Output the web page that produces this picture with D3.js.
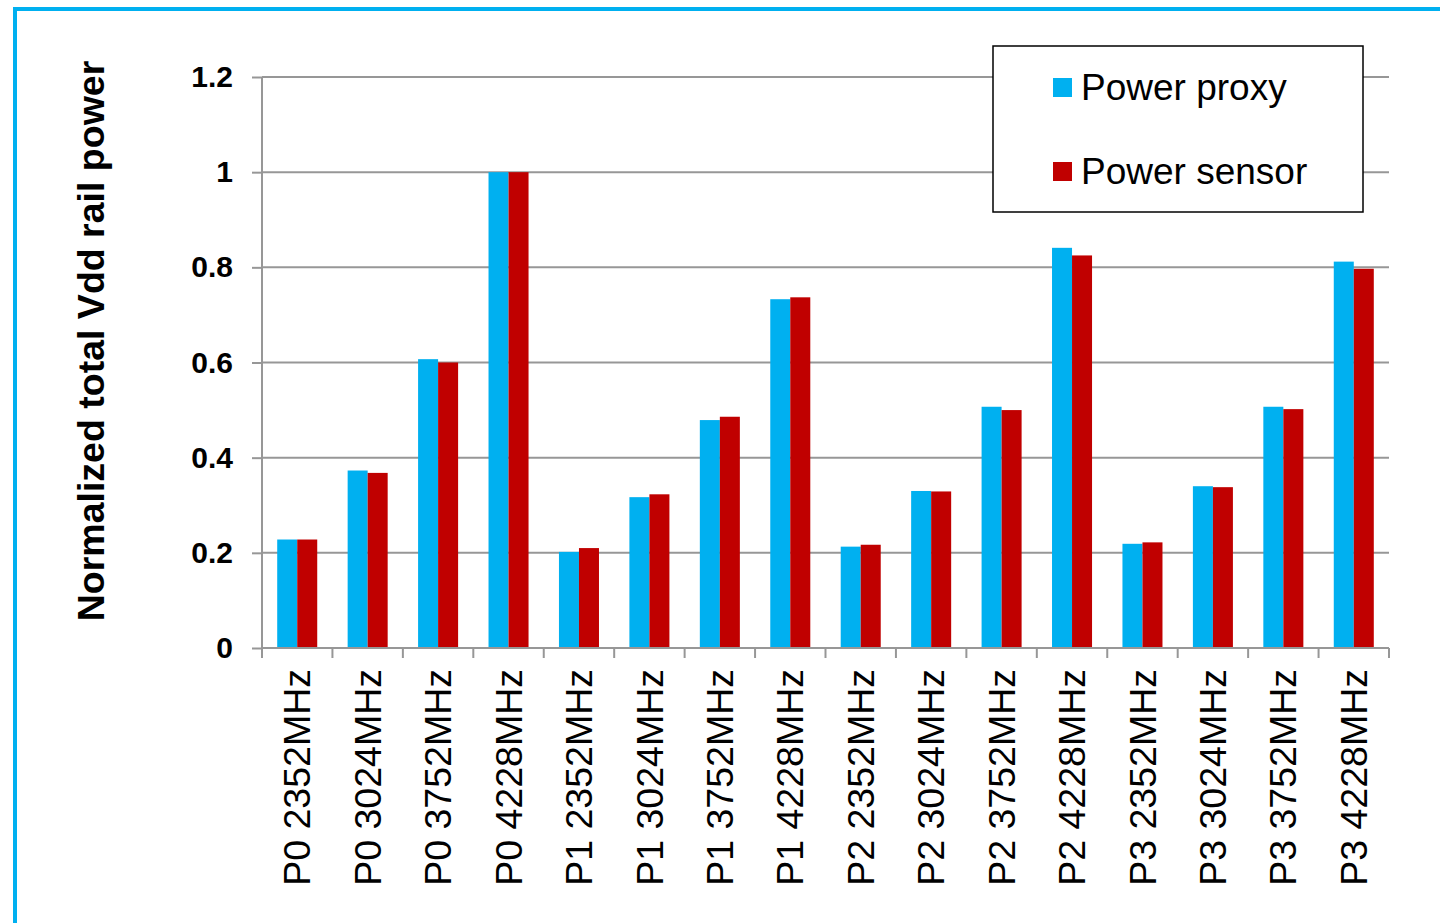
<!DOCTYPE html>
<html>
<head>
<meta charset="utf-8">
<script src="https://cdn.jsdelivr.net/npm/d3@7"></script>
<style>
  html, body { margin: 0; padding: 0; background: #fff; }
  svg { display: block; font-family: "Liberation Sans", Arial, sans-serif; }
</style>
</head>
<body>
<svg id="chart" width="1440" height="923"></svg>
<script>
// Operating points (P-state and core frequency)
const categories = [
  "P0 2352MHz", "P0 3024MHz", "P0 3752MHz", "P0 4228MHz",
  "P1 2352MHz", "P1 3024MHz", "P1 3752MHz", "P1 4228MHz",
  "P2 2352MHz", "P2 3024MHz", "P2 3752MHz", "P2 4228MHz",
  "P3 2352MHz", "P3 3024MHz", "P3 3752MHz", "P3 4228MHz"
];
const seriesNames = ["Power proxy", "Power sensor"];
const powerProxy = [0.228, 0.373, 0.607, 1.000, 0.202, 0.317, 0.479, 0.733,
                    0.213, 0.330, 0.507, 0.841, 0.219, 0.340, 0.507, 0.812];
const powerSensor = [0.228, 0.368, 0.600, 1.000, 0.210, 0.323, 0.486, 0.737,
                     0.217, 0.329, 0.500, 0.825, 0.222, 0.338, 0.502, 0.797];
const yTicks = [0, 0.2, 0.4, 0.6, 0.8, 1, 1.2];
const yTickLabels = ["0", "0.2", "0.4", "0.6", "0.8", "1", "1.2"];
const colors = ["#00b0f0", "#c00000"];

const svg = d3.select("#chart");

// outer frame
svg.append("rect")
  .attr("x", 15).attr("y", 9)
  .attr("width", 1440).attr("height", 930)
  .attr("fill", "none")
  .attr("stroke", "#00b0f0")
  .attr("stroke-width", 4);

const plot = { left: 262, right: 1389, top: 77, bottom: 648 };
const gridColor = "#979797";

const x = d3.scaleBand().domain(categories).range([plot.left, plot.right]).padding(0);
const x1 = d3.scaleBand().domain(seriesNames).range([0, x.bandwidth()])
  .paddingInner(0).paddingOuter(0.76);
const y = d3.scaleLinear().domain([0, 1.2]).range([plot.bottom, plot.top]);

// horizontal gridlines
svg.append("g").selectAll("line")
  .data(yTicks.filter(d => d > 0))
  .join("line")
  .attr("x1", plot.left).attr("x2", plot.right)
  .attr("y1", d => y(d)).attr("y2", d => y(d))
  .attr("stroke", gridColor).attr("stroke-width", 2);

// bars
const rows = categories.map((c, i) => ({ cat: c, vals: [powerProxy[i], powerSensor[i]] }));
const groups = svg.append("g").selectAll("g")
  .data(rows)
  .join("g")
  .attr("transform", d => `translate(${x(d.cat)},0)`);
groups.selectAll("rect")
  .data(d => d.vals.map((v, k) => ({ name: seriesNames[k], v, k })))
  .join("rect")
  .attr("x", d => x1(d.name))
  .attr("width", x1.bandwidth())
  .attr("y", d => y(d.v))
  .attr("height", d => y(0) - y(d.v))
  .attr("fill", d => colors[d.k]);

// y axis
const yAxis = d3.axisLeft(y)
  .tickValues(yTicks)
  .tickFormat((d, i) => yTickLabels[i])
  .tickSize(10)
  .tickPadding(19);
const gy = svg.append("g")
  .attr("transform", `translate(${plot.left},0)`)
  .call(yAxis);
gy.select(".domain").attr("stroke", gridColor).attr("stroke-width", 2)
  .attr("d", `M0,${plot.bottom}V${plot.top}`);
gy.selectAll(".tick line").attr("stroke", gridColor).attr("stroke-width", 2);
gy.selectAll(".tick text")
  .attr("fill", "#000")
  .attr("font-family", "'Liberation Sans', Arial, sans-serif")
  .attr("font-size", 30)
  .attr("font-weight", "bold");

// x axis line and boundary ticks
const boundaries = categories.map(c => x(c)).concat([plot.right]);
const gx = svg.append("g");
gx.append("line")
  .attr("x1", plot.left).attr("x2", plot.right)
  .attr("y1", plot.bottom).attr("y2", plot.bottom)
  .attr("stroke", gridColor).attr("stroke-width", 2);
gx.selectAll("line.tk")
  .data(boundaries)
  .join("line")
  .attr("class", "tk")
  .attr("x1", d => d).attr("x2", d => d)
  .attr("y1", plot.bottom).attr("y2", plot.bottom + 10)
  .attr("stroke", gridColor).attr("stroke-width", 2);

// rotated category labels
gx.selectAll("text")
  .data(categories)
  .join("text")
  .attr("transform", d => `translate(${x(d) + x.bandwidth() / 2},669) rotate(-90)`)
  .attr("text-anchor", "end")
  .attr("dy", "0.35em")
  .attr("font-size", 37.5)
  .attr("fill", "#000")
  .text(d => d);

// y axis title
svg.append("text")
  .attr("transform", "translate(91,341) rotate(-90)")
  .attr("text-anchor", "middle")
  .attr("dy", "0.35em")
  .attr("font-size", 37.5)
  .attr("font-weight", "bold")
  .attr("fill", "#000")
  .text("Normalized total Vdd rail power");

// legend
const legend = svg.append("g");
legend.append("rect")
  .attr("x", 993).attr("y", 46)
  .attr("width", 370).attr("height", 166)
  .attr("fill", "#fff")
  .attr("stroke", "#000")
  .attr("stroke-width", 1.5);
const legendRows = [
  { name: seriesNames[0], color: colors[0], base: 100 },
  { name: seriesNames[1], color: colors[1], base: 184 }
];
legendRows.forEach(r => {
  legend.append("rect")
    .attr("x", 1053).attr("y", r.base - 22)
    .attr("width", 19).attr("height", 19)
    .attr("fill", r.color);
  legend.append("text")
    .attr("x", 1081).attr("y", r.base)
    .attr("font-size", 37)
    .attr("fill", "#000")
    .text(r.name);
});
</script>
</body>
</html>
